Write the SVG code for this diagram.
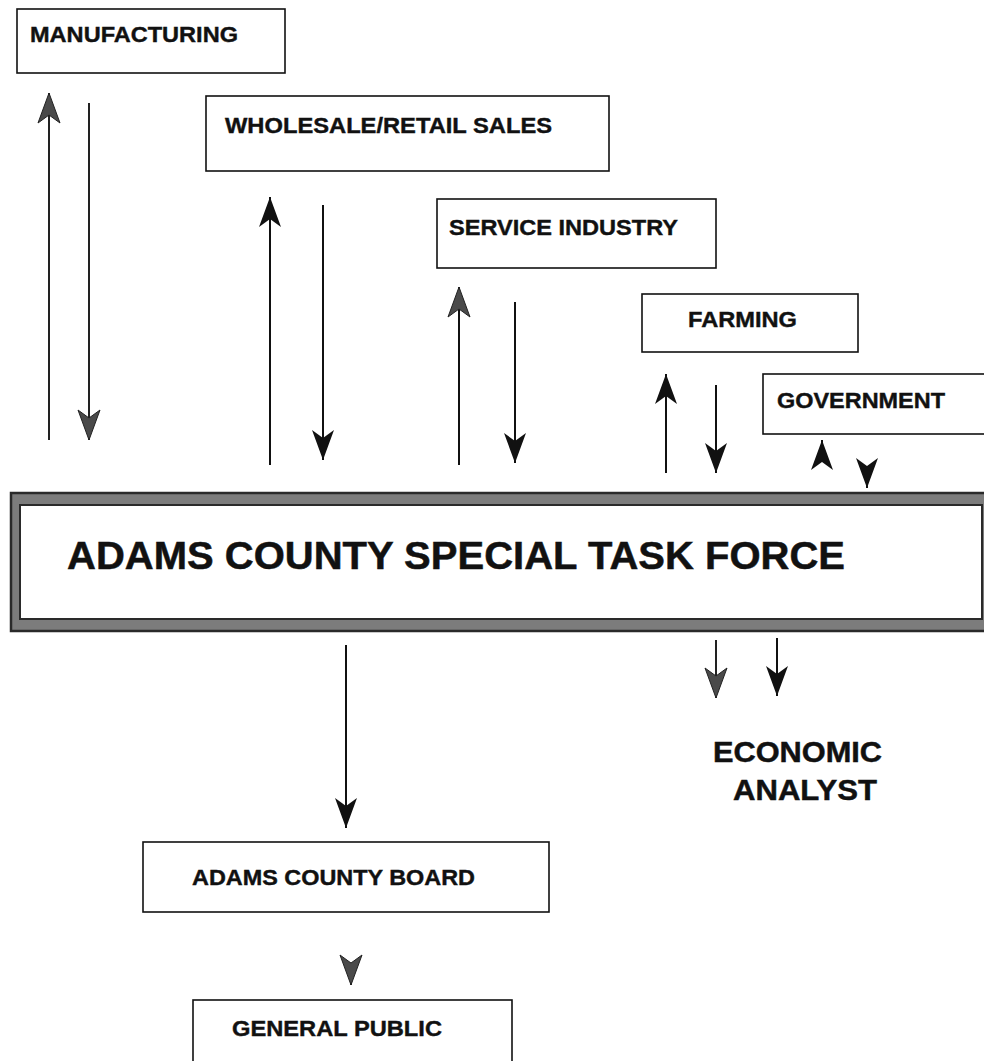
<svg xmlns="http://www.w3.org/2000/svg" width="984" height="1061" viewBox="0 0 984 1061">
<style>
.box{fill:#fff;stroke:#111;stroke-width:1.6}
.lbl{font-family:"Liberation Sans",Arial,sans-serif;font-weight:bold;font-size:22px;fill:#111;stroke:#111;stroke-width:0.4}
.big{font-family:"Liberation Sans",Arial,sans-serif;font-weight:bold;fill:#111;stroke:#111;stroke-width:0.5}
.ln{stroke:#111;stroke-width:2;fill:none}
.lg{stroke:#222;stroke-width:2;fill:none}
</style>
<defs>
<marker id="ah" viewBox="-31 -12 32 24" refX="0" refY="0" markerWidth="32" markerHeight="24" markerUnits="userSpaceOnUse" orient="auto">
<path d="M0,0 L-30,-11 L-22,0 L-30,11 Z" fill="#111"/>
</marker>
<marker id="ahg" viewBox="-31 -12 32 24" refX="0" refY="0" markerWidth="32" markerHeight="24" markerUnits="userSpaceOnUse" orient="auto">
<path d="M0,0 L-30,-11 L-22,0 L-30,11 Z" fill="#4a4a4a" stroke="#222" stroke-width="1"/>
</marker>
</defs>
<rect width="984" height="1061" fill="#fff"/>

<g id="manufacturing">
<rect class="box" x="17" y="9" width="268" height="64"/>
<text class="lbl" x="30" y="42" textLength="208" lengthAdjust="spacingAndGlyphs">MANUFACTURING</text>
</g>
<g id="wholesale">
<rect class="box" x="206" y="96" width="403" height="75"/>
<text class="lbl" x="225" y="133" textLength="327" lengthAdjust="spacingAndGlyphs">WHOLESALE/RETAIL SALES</text>
</g>
<g id="service">
<rect class="box" x="437" y="199" width="279" height="69"/>
<text class="lbl" x="449" y="235" textLength="229" lengthAdjust="spacingAndGlyphs">SERVICE INDUSTRY</text>
</g>
<g id="farming">
<rect class="box" x="642" y="294" width="216" height="58"/>
<text class="lbl" x="688" y="327" textLength="109" lengthAdjust="spacingAndGlyphs">FARMING</text>
</g>
<g id="government">
<rect class="box" x="763" y="374" width="240" height="60"/>
<text class="lbl" x="777" y="408" textLength="168" lengthAdjust="spacingAndGlyphs">GOVERNMENT</text>
</g>
<g id="taskforce">
<rect x="11" y="493" width="990" height="138" fill="#7c7c7c" stroke="#2a2a2a" stroke-width="2.5"/>
<rect x="20" y="505" width="962" height="114" fill="#fff" stroke="#2a2a2a" stroke-width="2"/>
<text class="big" x="67" y="569" font-size="39" textLength="778" lengthAdjust="spacingAndGlyphs">ADAMS COUNTY SPECIAL TASK FORCE</text>
</g>
<g id="economic">
<text class="big" x="713" y="762" font-size="30" textLength="169" lengthAdjust="spacingAndGlyphs">ECONOMIC</text>
<text class="big" x="733" y="800" font-size="30" textLength="144" lengthAdjust="spacingAndGlyphs">ANALYST</text>
</g>
<g id="board">
<rect class="box" x="143" y="842" width="406" height="70"/>
<text class="lbl" x="192" y="885" textLength="283" lengthAdjust="spacingAndGlyphs">ADAMS COUNTY BOARD</text>
</g>
<g id="public">
<rect class="box" x="193" y="1000" width="319" height="80"/>
<text class="lbl" x="232" y="1036" textLength="210" lengthAdjust="spacingAndGlyphs">GENERAL PUBLIC</text>
</g>

<g id="connectors">
<line class="lg" x1="49" y1="440" x2="49" y2="93" marker-end="url(#ahg)"/>
<line class="lg" x1="89" y1="103" x2="89" y2="440" marker-end="url(#ahg)"/>
<line class="ln" x1="270" y1="465" x2="270" y2="197" marker-end="url(#ah)"/>
<line class="ln" x1="323" y1="205" x2="323" y2="460" marker-end="url(#ah)"/>
<line class="ln" x1="459" y1="465" x2="459" y2="287" marker-end="url(#ahg)"/>
<line class="ln" x1="515" y1="302" x2="515" y2="463" marker-end="url(#ah)"/>
<line class="ln" x1="666" y1="473" x2="666" y2="374" marker-end="url(#ah)"/>
<line class="ln" x1="716" y1="385" x2="716" y2="473" marker-end="url(#ah)"/>
<line class="ln" x1="822" y1="462" x2="822" y2="440" marker-end="url(#ah)"/>
<line class="ln" x1="867" y1="466" x2="867" y2="488" marker-end="url(#ah)"/>
<line class="lg" x1="716" y1="640" x2="716" y2="698" marker-end="url(#ahg)"/>
<line class="ln" x1="777" y1="638" x2="777" y2="696" marker-end="url(#ah)"/>
<line class="ln" x1="346" y1="645" x2="346" y2="828" marker-end="url(#ah)"/>
<line class="lg" x1="351" y1="963" x2="351" y2="985" marker-end="url(#ahg)"/>
</g>
</svg>
